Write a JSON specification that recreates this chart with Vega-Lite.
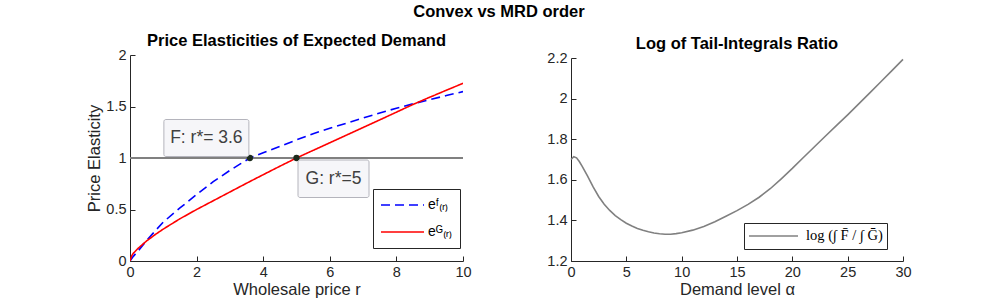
{
  "$schema": "https://vega.github.io/schema/vega-lite/v6.json",
  "background": "white",
  "padding": {"left": 86, "top": 4, "right": 0, "bottom": 0},
  "title": {"text": "Convex vs MRD order", "fontSize": 16.5, "fontWeight": "bold", "font": "Liberation Sans", "color": "#000000", "anchor": "middle", "offset": 12},
  "spacing": 74,
  "resolve": {"scale": {"color": "independent", "strokeDash": "independent"}, "legend": {"color": "independent", "strokeDash": "independent"}},
  "datasets": {
    "elast": [
      {"r": 0, "e": 0, "series": "F"}, {"r": 0.1, "e": 0.045, "series": "F"}, {"r": 0.25, "e": 0.1, "series": "F"}, {"r": 0.5, "e": 0.2, "series": "F"}, {"r": 0.75, "e": 0.29, "series": "F"}, {"r": 1, "e": 0.378, "series": "F"}, {"r": 1.5, "e": 0.515, "series": "F"}, {"r": 2, "e": 0.645, "series": "F"}, {"r": 2.5, "e": 0.77, "series": "F"}, {"r": 3, "e": 0.88, "series": "F"}, {"r": 3.3, "e": 0.94, "series": "F"}, {"r": 3.6, "e": 1.0, "series": "F"}, {"r": 4, "e": 1.05, "series": "F"}, {"r": 4.5, "e": 1.113, "series": "F"}, {"r": 5, "e": 1.176, "series": "F"}, {"r": 5.5, "e": 1.236, "series": "F"}, {"r": 6, "e": 1.288, "series": "F"}, {"r": 6.5, "e": 1.338, "series": "F"}, {"r": 7, "e": 1.388, "series": "F"}, {"r": 7.5, "e": 1.437, "series": "F"}, {"r": 8, "e": 1.483, "series": "F"}, {"r": 8.5, "e": 1.526, "series": "F"}, {"r": 9, "e": 1.567, "series": "F"}, {"r": 9.5, "e": 1.606, "series": "F"}, {"r": 10, "e": 1.645, "series": "F"},
      {"r": 0, "e": 0, "series": "G"}, {"r": 0.05, "e": 0.05, "series": "G"}, {"r": 0.1, "e": 0.075, "series": "G"}, {"r": 0.25, "e": 0.125, "series": "G"}, {"r": 0.5, "e": 0.195, "series": "G"}, {"r": 0.75, "e": 0.255, "series": "G"}, {"r": 1, "e": 0.31, "series": "G"}, {"r": 1.5, "e": 0.41, "series": "G"}, {"r": 2, "e": 0.5, "series": "G"}, {"r": 2.5, "e": 0.585, "series": "G"}, {"r": 3, "e": 0.67, "series": "G"}, {"r": 3.5, "e": 0.755, "series": "G"}, {"r": 4, "e": 0.838, "series": "G"}, {"r": 4.5, "e": 0.92, "series": "G"}, {"r": 5, "e": 1.0, "series": "G"}, {"r": 5.5, "e": 1.074, "series": "G"}, {"r": 6, "e": 1.148, "series": "G"}, {"r": 6.5, "e": 1.222, "series": "G"}, {"r": 7, "e": 1.296, "series": "G"}, {"r": 7.5, "e": 1.37, "series": "G"}, {"r": 8, "e": 1.445, "series": "G"}, {"r": 8.5, "e": 1.52, "series": "G"}, {"r": 9, "e": 1.59, "series": "G"}, {"r": 9.5, "e": 1.658, "series": "G"}, {"r": 10, "e": 1.725, "series": "G"}
    ],
    "optima": [
      {"series": "F", "rstar": 3.6, "level": 1, "label": "F: r*= 3.6"},
      {"series": "G", "rstar": 5, "level": 1, "label": "G: r*=5"}
    ],
    "ratio": [
      {"a": 0, "v": 1.7, "s": "L"}, {"a": 0.25, "v": 1.714, "s": "L"}, {"a": 0.5, "v": 1.708, "s": "L"}, {"a": 0.75, "v": 1.69, "s": "L"}, {"a": 1, "v": 1.667, "s": "L"}, {"a": 1.5, "v": 1.618, "s": "L"}, {"a": 2, "v": 1.565, "s": "L"}, {"a": 2.5, "v": 1.518, "s": "L"}, {"a": 3, "v": 1.48, "s": "L"}, {"a": 3.5, "v": 1.449, "s": "L"}, {"a": 4, "v": 1.424, "s": "L"}, {"a": 4.5, "v": 1.404, "s": "L"}, {"a": 5, "v": 1.386, "s": "L"}, {"a": 5.5, "v": 1.372, "s": "L"}, {"a": 6, "v": 1.36, "s": "L"}, {"a": 6.5, "v": 1.351, "s": "L"}, {"a": 7, "v": 1.344, "s": "L"}, {"a": 7.5, "v": 1.338, "s": "L"}, {"a": 8, "v": 1.334, "s": "L"}, {"a": 8.5, "v": 1.332, "s": "L"}, {"a": 9, "v": 1.332, "s": "L"}, {"a": 9.5, "v": 1.335, "s": "L"}, {"a": 10, "v": 1.339, "s": "L"}, {"a": 11, "v": 1.352, "s": "L"}, {"a": 12, "v": 1.37, "s": "L"}, {"a": 13, "v": 1.393, "s": "L"}, {"a": 14, "v": 1.42, "s": "L"}, {"a": 15, "v": 1.448, "s": "L"}, {"a": 16, "v": 1.479, "s": "L"}, {"a": 17, "v": 1.514, "s": "L"}, {"a": 18, "v": 1.556, "s": "L"}, {"a": 19, "v": 1.605, "s": "L"}, {"a": 20, "v": 1.656, "s": "L"}, {"a": 21, "v": 1.71, "s": "L"}, {"a": 22, "v": 1.763, "s": "L"}, {"a": 23, "v": 1.816, "s": "L"}, {"a": 24, "v": 1.868, "s": "L"}, {"a": 25, "v": 1.92, "s": "L"}, {"a": 26, "v": 1.974, "s": "L"}, {"a": 27, "v": 2.028, "s": "L"}, {"a": 28, "v": 2.083, "s": "L"}, {"a": 29, "v": 2.138, "s": "L"}, {"a": 30, "v": 2.193, "s": "L"}
    ]
  },
  "hconcat": [
    {
      "width": 333,
      "height": 206,
      "title": {"text": "Price Elasticities of Expected Demand", "offset": -2},
      "layer": [
        {
          "data": {"name": "optima"},
          "mark": {"type": "rule", "color": "#808080", "strokeWidth": 2},
          "encoding": {"y": {"field": "level", "type": "quantitative"}}
        },
        {
          "data": {"name": "elast"},
          "mark": {"type": "line", "strokeWidth": 1.6, "clip": true},
          "encoding": {
            "x": {"field": "r", "type": "quantitative", "scale": {"domain": [0, 10], "nice": false}, "axis": {"values": [0, 2, 4, 6, 8, 10], "title": "Wholesale price r"}},
            "y": {"field": "e", "type": "quantitative", "scale": {"domain": [0, 2], "nice": false}, "axis": {"values": [0, 0.5, 1, 1.5, 2], "format": "~g", "title": "Price Elasticity"}},
            "color": {"field": "series", "type": "nominal", "scale": {"domain": ["F", "G"], "range": ["#0000ff", "#ff0000"]},
              "legend": {"title": null, "orient": "none", "legendX": 243, "legendY": 134, "padding": 7, "rowPadding": 9, "clipHeight": 18, "symbolType": "stroke", "symbolSize": 1849, "labelOffset": 3, "labelFontSize": 14, "labelExpr": "datum.value == 'F' ? 'eᶠ₍ᵣ₎' : 'eᴳ₍ᵣ₎'"}},
            "strokeDash": {"field": "series", "type": "nominal", "scale": {"domain": ["F", "G"], "range": [[9, 5], [1, 0]]},
              "legend": {"title": null, "orient": "none", "legendX": 243, "legendY": 134, "padding": 7, "rowPadding": 9, "clipHeight": 18, "symbolType": "stroke", "symbolSize": 1849, "labelOffset": 3, "labelFontSize": 14, "labelExpr": "datum.value == 'F' ? 'eᶠ₍ᵣ₎' : 'eᴳ₍ᵣ₎'"}}
          }
        },
        {
          "data": {"name": "optima"},
          "mark": {"type": "point", "filled": true, "color": "#1c2b1c", "size": 40, "opacity": 1},
          "encoding": {
            "x": {"field": "rstar", "type": "quantitative"},
            "y": {"field": "level", "type": "quantitative"}
          }
        },
        {
          "data": {"name": "optima"},
          "transform": [{"filter": "datum.series == 'F'"}],
          "mark": {"type": "rect", "fill": "#f6f6f9", "stroke": "#b4b4bc", "strokeWidth": 1, "cornerRadius": 2, "xOffset": -86, "x2Offset": -1, "yOffset": -38.5, "y2Offset": -1.5},
          "encoding": {
            "x": {"field": "rstar", "type": "quantitative"}, "x2": {"field": "rstar"},
            "y": {"field": "level", "type": "quantitative"}, "y2": {"field": "level"}
          }
        },
        {
          "data": {"name": "optima"},
          "transform": [{"filter": "datum.series == 'F'"}],
          "mark": {"type": "text", "font": "Liberation Sans", "fontSize": 17.5, "color": "#404040", "align": "center", "baseline": "middle", "dx": -43.5, "dy": -20},
          "encoding": {
            "x": {"field": "rstar", "type": "quantitative"},
            "y": {"field": "level", "type": "quantitative"},
            "text": {"field": "label"}
          }
        },
        {
          "data": {"name": "optima"},
          "transform": [{"filter": "datum.series == 'G'"}],
          "mark": {"type": "rect", "fill": "#f6f6f9", "stroke": "#b4b4bc", "strokeWidth": 1, "cornerRadius": 2, "xOffset": 1.5, "x2Offset": 72.5, "yOffset": 2, "y2Offset": 39.5},
          "encoding": {
            "x": {"field": "rstar", "type": "quantitative"}, "x2": {"field": "rstar"},
            "y": {"field": "level", "type": "quantitative"}, "y2": {"field": "level"}
          }
        },
        {
          "data": {"name": "optima"},
          "transform": [{"filter": "datum.series == 'G'"}],
          "mark": {"type": "text", "font": "Liberation Sans", "fontSize": 17.5, "color": "#404040", "align": "center", "baseline": "middle", "dx": 37, "dy": 21},
          "encoding": {
            "x": {"field": "rstar", "type": "quantitative"},
            "y": {"field": "level", "type": "quantitative"},
            "text": {"field": "label"}
          }
        }
      ]
    },
    {
      "width": 332,
      "height": 206,
      "title": {"text": "Log of Tail-Integrals Ratio", "offset": -2},
      "data": {"name": "ratio"},
      "mark": {"type": "line", "color": "#808080", "strokeWidth": 1.6},
      "encoding": {
        "x": {"field": "a", "type": "quantitative", "scale": {"domain": [0, 30], "nice": false}, "axis": {"values": [0, 5, 10, 15, 20, 25, 30], "title": "Demand level α"}},
        "y": {"field": "v", "type": "quantitative", "scale": {"domain": [1.2, 2.2], "range": [206, 3], "nice": false, "zero": false}, "axis": {"values": [1.2, 1.4, 1.6, 1.8, 2, 2.2], "format": "~g", "title": null}},
        "color": {"field": "s", "type": "nominal", "scale": {"domain": ["L"], "range": ["#808080"]},
          "legend": {"title": null, "orient": "none", "legendX": 173, "legendY": 168, "padding": 4, "clipHeight": 18, "symbolType": "stroke", "symbolSize": 2401, "labelOffset": 7, "labelFont": "Liberation Serif", "labelFontSize": 14.5, "labelExpr": "'log (∫ F̄ / ∫ Ḡ)'"}}
      }
    }
  ],
  "config": {
    "view": {"stroke": null},
    "title": {"font": "Liberation Sans", "fontSize": 16.5, "fontWeight": "bold", "color": "#000000", "anchor": "middle"},
    "axis": {
      "grid": false,
      "labelFont": "Liberation Sans", "labelFontSize": 14.5, "labelColor": "#262626",
      "titleFont": "Liberation Sans", "titleFontSize": 16.5, "titleFontWeight": "normal", "titleColor": "#262626",
      "domainColor": "#262626", "tickColor": "#262626", "tickSize": -5, "labelPadding": 9, "titlePadding": 3,
      "labelFlush": false, "labelOverlap": false
    },
    "legend": {
      "strokeColor": "#262626", "fillColor": "#ffffff", "symbolStrokeWidth": 1.6,
      "labelFont": "Liberation Sans", "labelColor": "#000000"
    }
  }
}
